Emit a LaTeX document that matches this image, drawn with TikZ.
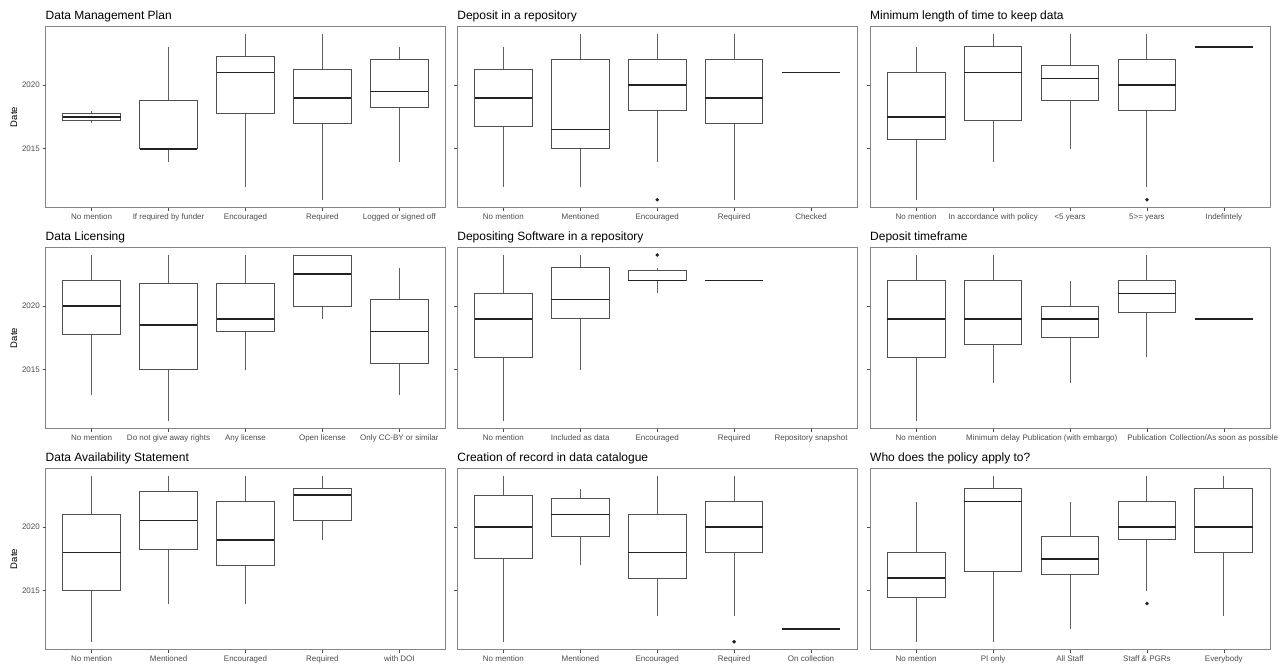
\documentclass[tikz,border=0pt]{standalone}
\usepackage{fontspec}
\setmainfont{Liberation Sans}
\definecolor{tickgrey}{HTML}{4D4D4D}
\definecolor{bordergrey}{HTML}{858585}
\definecolor{boxgrey}{HTML}{505050}
\definecolor{medgrey}{HTML}{222222}
\definecolor{whiskgrey}{HTML}{606060}
\tikzset{
  border/.style={draw=bordergrey,line width=0.8pt},
  boxl/.style={draw=boxgrey,line width=1pt},
  medl/.style={draw=medgrey,line width=1.5pt},
  whisk/.style={draw=whiskgrey,line width=1pt},
  tickl/.style={draw=tickgrey,line width=0.6pt},
  ptitle/.style={anchor=base west,inner sep=0pt,font=\fontsize{12}{14}\selectfont,text=black},
  xlab/.style={anchor=base,inner sep=0pt,font=\fontsize{8}{9.6}\selectfont,text=tickgrey},
  ylab/.style={anchor=east,inner sep=0pt,font=\fontsize{8}{9.6}\selectfont,text=tickgrey},
  atitle/.style={rotate=90,inner sep=0pt,font=\fontsize{9.5}{11}\selectfont,text=black},
  outl/.style={fill=medgrey,draw=none}
}
% #1 L, #2 Y0, #3 category, #4 lower whisker, #5 Q1, #6 median, #7 Q3, #8 upper whisker
\newcommand{\bpbox}[8]{%
  \pgfmathsetmacro\bpcx{#1+(#3-0.4)*76.92}%
  \pgfmathsetmacro\bplo{#2-(#4-2020)*12.75}%
  \pgfmathsetmacro\bpqa{#2-(#5-2020)*12.75}%
  \pgfmathsetmacro\bpmd{#2-(#6-2020)*12.75}%
  \pgfmathsetmacro\bpqb{#2-(#7-2020)*12.75}%
  \pgfmathsetmacro\bphi{#2-(#8-2020)*12.75}%
  \draw[whisk] (\bpcx,\bplo) -- (\bpcx,\bpqa);
  \draw[whisk] (\bpcx,\bpqb) -- (\bpcx,\bphi);
  \draw[boxl] (\bpcx-28.85,\bpqa) rectangle (\bpcx+28.85,\bpqb);
  \draw[medl] (\bpcx-28.85,\bpmd) -- (\bpcx+28.85,\bpmd);
}
\newcommand{\bpflat}[4]{%
  \pgfmathsetmacro\bpcx{#1+(#3-0.4)*76.92}%
  \pgfmathsetmacro\bpmd{#2-(#4-2020)*12.75}%
  \draw[medl] (\bpcx-28.85,\bpmd) -- (\bpcx+28.85,\bpmd);
}
\newcommand{\bpdot}[4]{%
  \pgfmathsetmacro\bpcx{#1+(#3-0.4)*76.92}%
  \pgfmathsetmacro\bpmd{#2-(#4-2020)*12.75}%
  \fill[outl] (\bpcx,\bpmd) circle (1.9);
}
% #1 name, #2 L, #3 Y0, #4 title, #5 labels
\newcommand{\bppanel}[5]{%
  \draw[border] (#2,#3-59) rectangle (#2+400,#3+122.5);
  \coordinate (#1-nw) at (#2,#3-59);
  \node[ptitle] (#1-title) at (#2,#3-66) {#4};
  \draw[tickl] (#2-3,#3) -- (#2,#3);
  \draw[tickl] (#2-3,#3+63.75) -- (#2,#3+63.75);
  \foreach \lab [count=\i] in {#5} {
    \pgfmathsetmacro\bpcx{#2+(\i-0.4)*76.92}
    \draw[tickl] (\bpcx,#3+122.5) -- (\bpcx,#3+125.5);
    \node[xlab] (#1-x\i) at (\bpcx,#3+134.3) {\lab};
  }
}
\newcommand{\bpyaxis}[2]{%
  \node[ylab] (#1-y2020) at (40,#2) {2020};
  \node[ylab] (#1-y2015) at (40,#2+63.75) {2015};
  \node[atitle] (#1-date) at (14,#2+32) {Date};
}
\begin{document}
\begin{tikzpicture}[x=1pt,y=-1pt]
\fill[white] (0,0) rectangle (1280,672);
\useasboundingbox (0,0) rectangle (1280,672);

% Row 1
\bppanel{p1}{45.5}{85}{Data Management Plan}{No mention,If required by funder,Encouraged,Required,Logged or signed off}
\bpyaxis{p1}{85}
\bpbox{45.5}{85}{1}{2017}{2017.25}{2017.5}{2017.75}{2018}
\bpbox{45.5}{85}{2}{2014}{2015}{2015}{2018.75}{2023}
\bpbox{45.5}{85}{3}{2012}{2017.75}{2021}{2022.25}{2024}
\bpbox{45.5}{85}{4}{2011}{2017}{2019}{2021.25}{2024}
\bpbox{45.5}{85}{5}{2014}{2018.25}{2019.5}{2022}{2023}

\bppanel{p2}{457.2}{85}{Deposit in a repository}{No mention,Mentioned,Encouraged,Required,Checked}
\bpbox{457.2}{85}{1}{2012}{2016.75}{2019}{2021.25}{2023}
\bpbox{457.2}{85}{2}{2012}{2015}{2016.5}{2022}{2024}
\bpbox{457.2}{85}{3}{2014}{2018}{2020}{2022}{2024}
\bpdot{457.2}{85}{3}{2011}
\bpbox{457.2}{85}{4}{2011}{2017}{2019}{2022}{2024}
\bpflat{457.2}{85}{5}{2021}

\bppanel{p3}{870}{85}{Minimum length of time to keep data}{No mention,In accordance with policy,<5 years,5>= years,Indefintely}
\bpbox{870}{85}{1}{2011}{2015.75}{2017.5}{2021}{2023}
\bpbox{870}{85}{2}{2014}{2017.25}{2021}{2023}{2024}
\bpbox{870}{85}{3}{2015}{2018.75}{2020.5}{2021.5}{2024}
\bpbox{870}{85}{4}{2012}{2018}{2020}{2022}{2024}
\bpdot{870}{85}{4}{2011}
\bpflat{870}{85}{5}{2023}

% Row 2
\bppanel{p4}{45.5}{306}{Data Licensing}{No mention,Do not give away rights,Any license,Open license,Only CC-BY or similar}
\bpyaxis{p4}{306}
\bpbox{45.5}{306}{1}{2013}{2017.75}{2020}{2022}{2024}
\bpbox{45.5}{306}{2}{2011}{2015}{2018.5}{2021.75}{2024}
\bpbox{45.5}{306}{3}{2015}{2018}{2019}{2021.75}{2024}
\bpbox{45.5}{306}{4}{2019}{2020}{2022.5}{2024}{2024}
\bpbox{45.5}{306}{5}{2013}{2015.5}{2018}{2020.5}{2023}

\bppanel{p5}{457.2}{306}{Depositing Software in a repository}{No mention,Included as data,Encouraged,Required,Repository snapshot}
\bpbox{457.2}{306}{1}{2011}{2016}{2019}{2021}{2024}
\bpbox{457.2}{306}{2}{2015}{2019}{2020.5}{2023}{2024}
\bpbox{457.2}{306}{3}{2021}{2022}{2022}{2022.75}{2023}
\bpdot{457.2}{306}{3}{2024}
\bpflat{457.2}{306}{4}{2022}

\bppanel{p6}{870}{306}{Deposit timeframe}{No mention,Minimum delay,Publication (with embargo),Publication,Collection/As soon as possible}
\bpbox{870}{306}{1}{2011}{2016}{2019}{2022}{2024}
\bpbox{870}{306}{2}{2014}{2017}{2019}{2022}{2024}
\bpbox{870}{306}{3}{2014}{2017.5}{2019}{2020}{2022}
\bpbox{870}{306}{4}{2016}{2019.5}{2021}{2022}{2024}
\bpflat{870}{306}{5}{2019}

% Row 3
\bppanel{p7}{45.5}{527}{Data Availability Statement}{No mention,Mentioned,Encouraged,Required,with DOI}
\bpyaxis{p7}{527}
\bpbox{45.5}{527}{1}{2011}{2015}{2018}{2021}{2024}
\bpbox{45.5}{527}{2}{2014}{2018.25}{2020.5}{2022.75}{2024}
\bpbox{45.5}{527}{3}{2014}{2017}{2019}{2022}{2024}
\bpbox{45.5}{527}{4}{2019}{2020.5}{2022.5}{2023}{2024}

\bppanel{p8}{457.2}{527}{Creation of record in data catalogue}{No mention,Mentioned,Encouraged,Required,On collection}
\bpbox{457.2}{527}{1}{2011}{2017.5}{2020}{2022.5}{2024}
\bpbox{457.2}{527}{2}{2017}{2019.25}{2021}{2022.25}{2023}
\bpbox{457.2}{527}{3}{2013}{2016}{2018}{2021}{2024}
\bpbox{457.2}{527}{4}{2013}{2018}{2020}{2022}{2024}
\bpdot{457.2}{527}{4}{2011}
\bpflat{457.2}{527}{5}{2012}

\bppanel{p9}{870}{527}{Who does the policy apply to?}{No mention,PI only,All Staff,Staff \& PGRs,Everybody}
\bpbox{870}{527}{1}{2011}{2014.5}{2016}{2018}{2022}
\bpbox{870}{527}{2}{2011}{2016.5}{2022}{2023}{2024}
\bpbox{870}{527}{3}{2012}{2016.25}{2017.5}{2019.25}{2022}
\bpbox{870}{527}{4}{2015}{2019}{2020}{2022}{2024}
\bpdot{870}{527}{4}{2014}
\bpbox{870}{527}{5}{2013}{2018}{2020}{2023}{2024}
\end{tikzpicture}
\end{document}
